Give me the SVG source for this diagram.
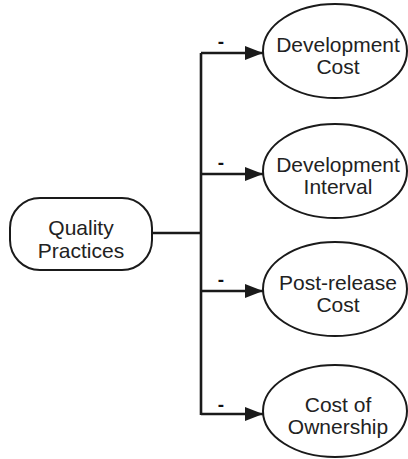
<svg xmlns="http://www.w3.org/2000/svg" width="408" height="459" viewBox="0 0 408 459">
<style>
.node{fill:#fff;stroke:#1a1a1a;stroke-width:2}
.lbl{font-family:"Liberation Sans",Arial,sans-serif;font-size:21px;fill:#222;text-anchor:middle}
.sign{font-family:"Liberation Sans",Arial,sans-serif;font-size:19px;font-weight:bold;fill:#111;text-anchor:middle}
.edge{fill:none;stroke:#1a1a1a;stroke-width:2.6}
</style>
<defs>
<marker id="arr" markerWidth="18" markerHeight="14" refX="18" refY="7" orient="auto" markerUnits="userSpaceOnUse">
<path d="M0,0 L18,7 L0,14 Z" fill="#1a1a1a"/>
</marker>
</defs>
<g id="connectors">
<path class="edge" d="M152,233 H201"/>
<path class="edge" d="M201,53 V415"/>
<path class="edge" d="M201,53 H263" marker-end="url(#arr)"/>
<path class="edge" d="M201,174 H263" marker-end="url(#arr)"/>
<path class="edge" d="M201,291 H263" marker-end="url(#arr)"/>
<path class="edge" d="M201,414 H263" marker-end="url(#arr)"/>
<text class="sign" x="221" y="48">-</text>
<text class="sign" x="221" y="169">-</text>
<text class="sign" x="221" y="286">-</text>
<text class="sign" x="221" y="411">-</text>
</g>
<g id="quality-practices">
<rect class="node" x="10" y="198" width="142" height="72" rx="30" ry="30"/>
<text class="lbl" x="81" y="235">Quality</text>
<text class="lbl" x="81" y="258">Practices</text>
</g>
<g id="development-cost">
<ellipse class="node" cx="335" cy="51" rx="72" ry="47"/>
<text class="lbl" x="338" y="52">Development</text>
<text class="lbl" x="338" y="74">Cost</text>
</g>
<g id="development-interval">
<ellipse class="node" cx="335" cy="171" rx="72" ry="47"/>
<text class="lbl" x="338" y="172">Development</text>
<text class="lbl" x="338" y="194">Interval</text>
</g>
<g id="post-release-cost">
<ellipse class="node" cx="335" cy="289" rx="72" ry="47"/>
<text class="lbl" x="338" y="290">Post-release</text>
<text class="lbl" x="338" y="312">Cost</text>
</g>
<g id="cost-of-ownership">
<ellipse class="node" cx="335" cy="411" rx="72" ry="46"/>
<text class="lbl" x="338" y="412">Cost of</text>
<text class="lbl" x="338" y="434">Ownership</text>
</g>
</svg>
